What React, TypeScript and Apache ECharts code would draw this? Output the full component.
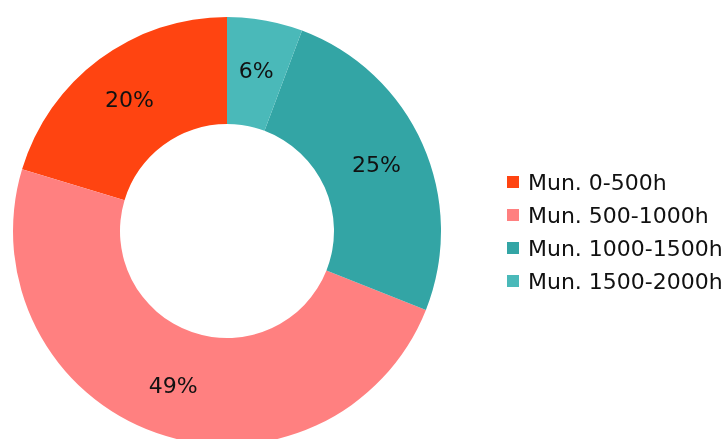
import React, { useEffect, useRef } from "react";
import * as echarts from "echarts";

const categories = ["Mun. 0-500h", "Mun. 500-1000h", "Mun. 1000-1500h", "Mun. 1500-2000h"];
const values = [20.35, 48.64, 25.31, 5.7];
const colors = ["#FF4411", "#FF8080", "#33A5A5", "#4AB9B9"];

export default function App() {
  const ref = useRef<HTMLDivElement>(null);
  useEffect(() => {
    document.body.style.margin = "0";
    const chart = echarts.init(ref.current!, null, { renderer: "svg" });
    chart.setOption({
      animation: false,
      color: colors,
      textStyle: { fontFamily: "DejaVu Sans" },
      legend: {
        orient: "vertical",
        left: 502,
        top: 166,
        itemWidth: 12,
        itemHeight: 12,
        itemGap: 11,
        icon: "rect",
        textStyle: { fontSize: 22, color: "#111", fontFamily: "DejaVu Sans", padding: [0, 0, 0, 4] },
        data: categories,
      },
      series: [
        {
          type: "pie",
          center: [227, 231],
          radius: [107, 214],
          startAngle: 90,
          clockwise: false,
          label: {
            show: true,
            position: "inside",
            formatter: (p: any) => Math.round(p.percent) + "%",
            fontSize: 22,
            color: "#111",
            fontFamily: "DejaVu Sans",
          },
          labelLine: { show: false },
          emphasis: { disabled: true },
          itemStyle: { borderWidth: 0 },
          data: categories.map((c, i) => ({ name: c, value: values[i] })),
        },
      ],
    });
    return () => chart.dispose();
  }, []);
  return <div ref={ref} style={{ position: "fixed", left: 0, top: 0, width: 727, height: 439 }} />;
}
